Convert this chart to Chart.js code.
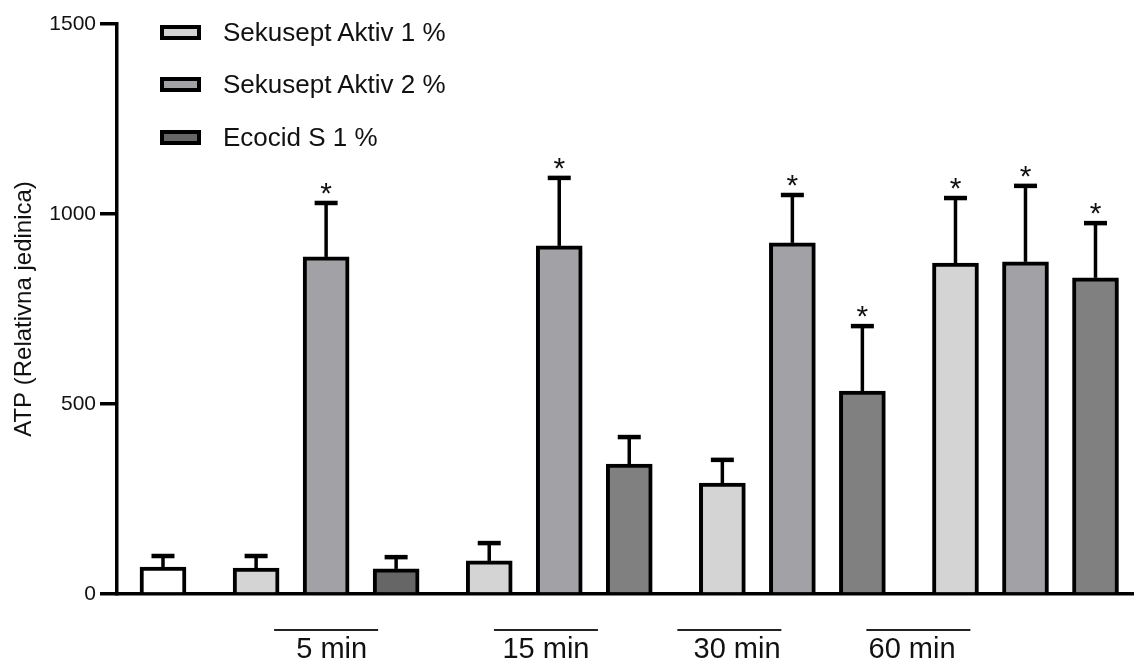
<!DOCTYPE html>
<html>
<head>
<meta charset="utf-8">
<script src="https://cdn.jsdelivr.net/npm/chart.js@4.4.1/dist/chart.umd.min.js"></script>
<style>
  body { margin: 0; background: #fff; font-family: "Liberation Sans", Arial, sans-serif; }
  #wrap { position: relative; width: 1134px; height: 666px; }
  #legend { position: absolute; left: 160px; top: 6px; }
  .item { display: flex; align-items: center; height: 52.5px; font-size: 26px; color: #111; }
  .box { width: 41px; height: 15px; border: 4px solid #000; box-sizing: border-box; margin-right: 22px; }
</style>
</head>
<body>
<div id="wrap">
  <canvas id="chart" width="1134" height="666"></canvas>
  <div id="legend"></div>
</div>
<script>
// values
const groupLabels = ['5 min', '15 min', '30 min', '60 min'];
const seriesNames = ['Sekusept Aktiv 1 %', 'Sekusept Aktiv 2 %', 'Ecocid S 1 %'];
const controlMean = [71];
const controlErr = [29];
const sa1Mean = [68, 87, 292, 871];
const sa1Err = [32, 47, 61, 171];
const sa2Mean = [887, 916, 924, 874];
const sa2Err = [142, 179, 126, 200];
const ecoMean = [66, 342, 534, 832];
const ecoErr = [31, 71, 171, 144];
// * = significant
const sa1Sig = [false, false, false, true];
const sa2Sig = [true, true, true, true];
const ecoSig = [false, false, true, true];
const yTicks = [0, 500, 1000, 1500];

// styles
const controlColor = '#ffffff';
const sa1Color = '#d4d4d4';
const sa2Color = '#a2a1a5';
const ecoColors = ['#666666', '#808080', '#808080', '#808080'];

// layout: control bar at 0, then groups of 3 with a wider gap between them
const GAP = 1.33;
function barX(group, i) {
    return GAP + group * (2 + GAP) + i;
}
const labelX = [2.41, 5.47, 8.2, 10.7];
const lineX = [2.33, 5.47, 8.09, 10.79];

function makePoints(means, series) {
    return means.map((m, g) => ({ x: barX(g, series), y: m }));
}

Chart.defaults.font.family = "'Liberation Sans', Arial, sans-serif";
Chart.defaults.color = '#111';

const errorBars = {
    id: 'errorBars',
    afterDatasetsDraw(chart) {
        const ctx = chart.ctx;
        const yScale = chart.scales.y;
        const xScale = chart.scales.x;
        ctx.save();
        ctx.strokeStyle = '#000';
        ctx.fillStyle = '#111';
        ctx.font = "30px 'Liberation Sans', Arial, sans-serif";
        ctx.textAlign = 'center';
        ctx.textBaseline = 'middle';
        chart.data.datasets.forEach((ds, di) => {
            const meta = chart.getDatasetMeta(di);
            meta.data.forEach((bar, i) => {
                const top = yScale.getPixelForValue(ds.data[i].y + ds.errors[i]);
                ctx.lineWidth = 3.5;
                ctx.beginPath();
                ctx.moveTo(bar.x, bar.y);
                ctx.lineTo(bar.x, top);
                ctx.stroke();
                ctx.lineWidth = 4.5;
                ctx.beginPath();
                ctx.moveTo(bar.x - 11.5, top);
                ctx.lineTo(bar.x + 11.5, top);
                ctx.stroke();
                if (ds.sig[i]) {
                    ctx.fillText('*', bar.x, top - 8);
                }
            });
        });
        // lines above the time labels
        const lineY = chart.chartArea.bottom + 36;
        ctx.lineWidth = 2;
        ctx.strokeStyle = '#222';
        lineX.forEach(v => {
            const cx = xScale.getPixelForValue(v);
            ctx.beginPath();
            ctx.moveTo(cx - 52, lineY);
            ctx.lineTo(cx + 52, lineY);
            ctx.stroke();
        });
        ctx.restore();
    }
};

const datasets = [
    {
        label: 'Kontrola',
        data: [{ x: 0, y: controlMean[0] }],
        errors: controlErr,
        sig: [false],
        backgroundColor: controlColor
    },
    { label: seriesNames[0], data: makePoints(sa1Mean, 0), errors: sa1Err, sig: sa1Sig, backgroundColor: sa1Color },
    { label: seriesNames[1], data: makePoints(sa2Mean, 1), errors: sa2Err, sig: sa2Sig, backgroundColor: sa2Color },
    { label: seriesNames[2], data: makePoints(ecoMean, 2), errors: ecoErr, sig: ecoSig, backgroundColor: ecoColors }
];
datasets.forEach(ds => {
    ds.borderColor = '#000';
    ds.borderWidth = 4;
    ds.barThickness = 46;
    ds.grouped = false;
});

new Chart(document.getElementById('chart'), {
    type: 'bar',
    data: { datasets: datasets },
    options: {
        responsive: false,
        animation: false,
        layout: { padding: { top: 24, left: 0, right: 0, bottom: 0 } },
        plugins: {
            legend: { display: false },
            tooltip: { enabled: false }
        },
        scales: {
            x: {
                type: 'linear',
                offset: false,
                min: -0.657,
                max: 13.87,
                grid: { display: false, drawTicks: false },
                border: { color: '#000', width: 3.5 },
                afterBuildTicks: s => { s.ticks = labelX.map(v => ({ value: v })); },
                afterFit: s => { s.height = 72; },
                ticks: {
                    autoSkip: false,
                    maxRotation: 0,
                    padding: 39,
                    font: { size: 29 },
                    color: '#111',
                    callback: (v, i) => groupLabels[i]
                }
            },
            y: {
                min: 0,
                max: 1500,
                afterBuildTicks: s => { s.ticks = yTicks.map(v => ({ value: v })); },
                afterFit: s => { s.width = 117; },
                grid: { drawOnChartArea: false, drawTicks: true, tickLength: 17, lineWidth: 3.5, color: '#000' },
                border: { color: '#000', width: 3.5 },
                ticks: { font: { size: 21 }, color: '#111', padding: 4, callback: v => String(v) },
                title: {
                    display: true,
                    text: 'ATP (Relativna jedinica)',
                    font: { size: 24 },
                    color: '#111',
                    padding: { top: 10, bottom: 0 }
                }
            }
        }
    },
    plugins: [errorBars]
});

// legend on the left top, one row per series
const legend = document.getElementById('legend');
[sa1Color, sa2Color, ecoColors[0]].forEach((c, i) => {
    const item = document.createElement('div');
    item.className = 'item';
    const box = document.createElement('span');
    box.className = 'box';
    box.style.background = c;
    item.appendChild(box);
    item.appendChild(document.createTextNode(seriesNames[i]));
    legend.appendChild(item);
});
</script>
</body>
</html>
